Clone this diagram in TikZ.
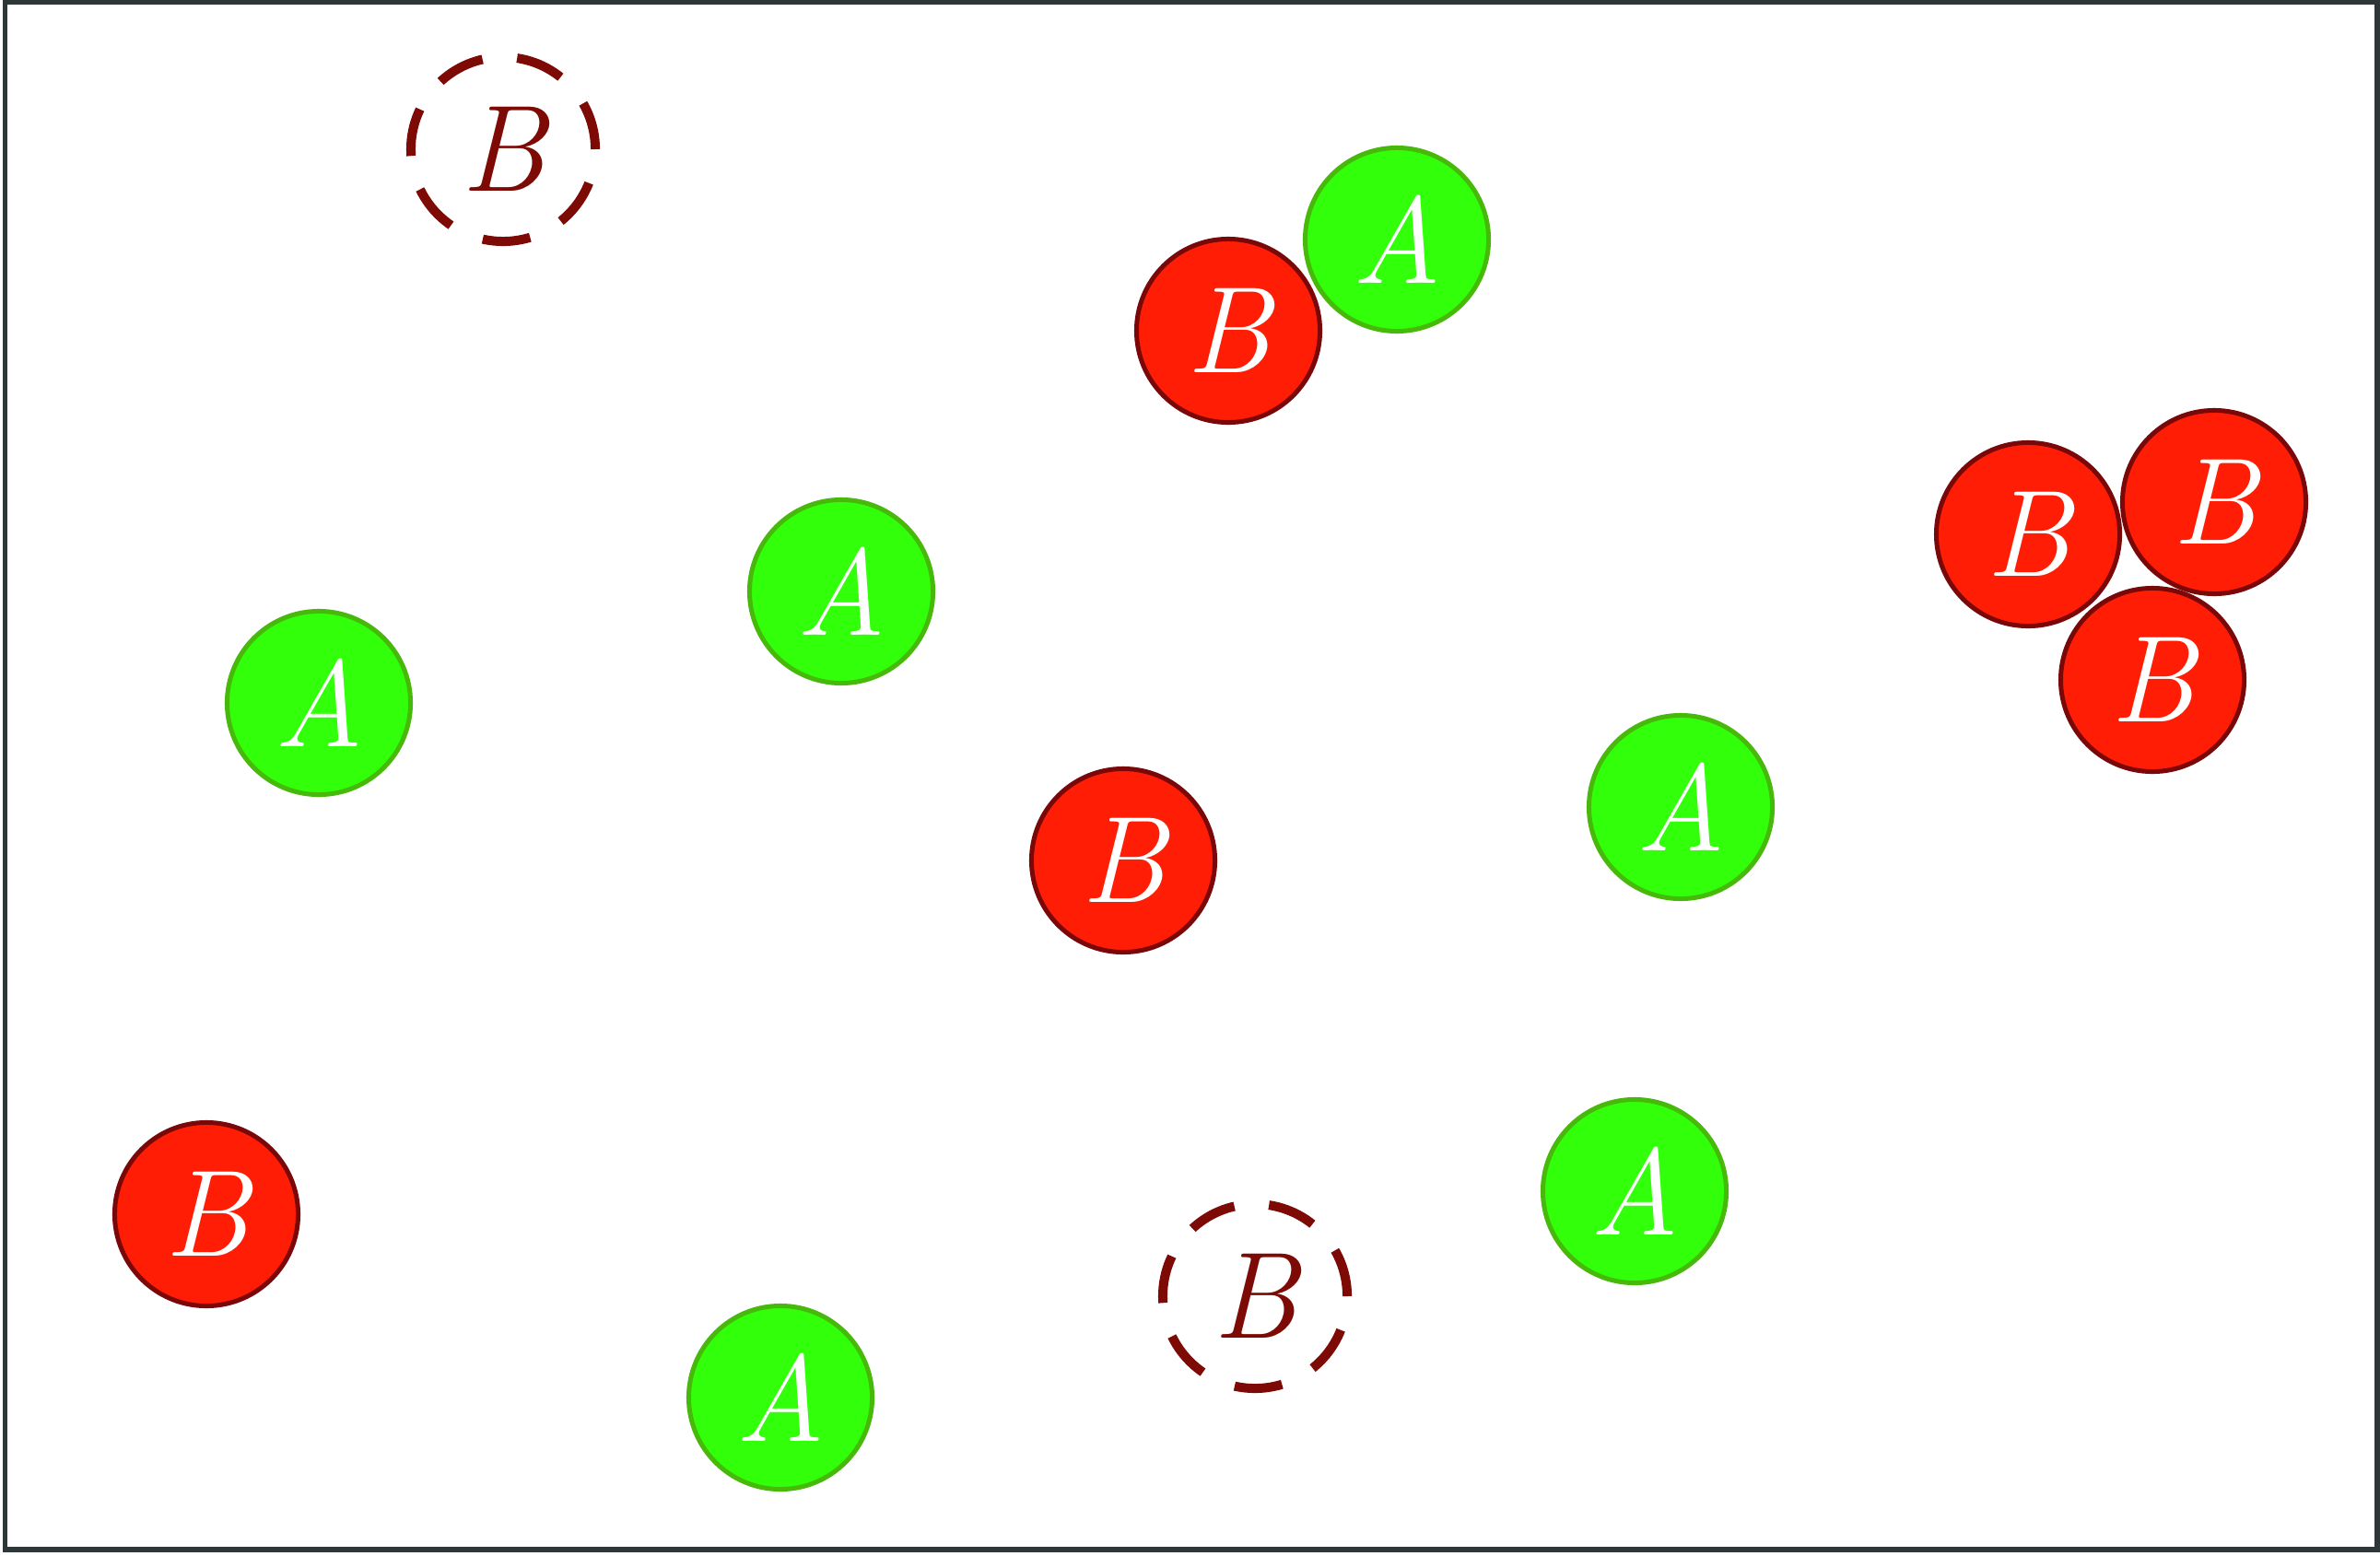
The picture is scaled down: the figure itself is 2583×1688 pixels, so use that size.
\documentclass[tikz,border=0pt]{standalone}
\usepackage{fontspec}
\usepackage{tikz}
\definecolor{redfill}{RGB}{255,30,5}
\definecolor{redline}{RGB}{122,8,8}
\definecolor{greenfill}{RGB}{50,255,10}
\definecolor{greenline}{RGB}{70,185,10}
\definecolor{dashline}{RGB}{125,10,5}
\definecolor{frameline}{RGB}{45,55,55}
\tikzset{
  ball/.style={circle, inner sep=0pt, minimum size=1.99cm, line width=0.05cm,
    font=\fontsize{38}{40}\selectfont\itshape},
  anode/.style={ball, draw=greenline, fill=greenfill, text=white},
  bnode/.style={ball, draw=redline, fill=redfill, text=white},
  ghost/.style={ball, minimum size=2cm, draw=dashline, text=dashline, line width=0.1cm,
    dash pattern=on 0.52cm off 0.378cm},
}
\begin{document}
\begin{tikzpicture}[x=0.01cm,y=-0.01cm]
\useasboundingbox (0,0) rectangle (2583,1688);
\draw[frameline, line width=0.055cm] (5.5,2) rectangle (2580,1682);
% green A
\node[anode] (a1) at (1516,260) {A};
\node[anode] (a2) at (913,642) {A};
\node[anode] (a3) at (346,763) {A};
\node[anode] (a4) at (1824,876) {A};
\node[anode] (a5) at (1774,1293) {A};
\node[anode] (a6) at (847,1517) {A};
% red B
\node[bnode] (b1) at (1333,359) {B};
\node[bnode] (b2) at (2201,580) {B};
\node[bnode] (b4) at (2336,738) {B};
\node[bnode] (b3) at (2403,545) {B};
\node[bnode] (b5) at (1219,934) {B};
\node[bnode] (b6) at (224,1318) {B};
% dashed B
\node[ghost] (g1) at (546,162) {B};
\node[ghost] (g2) at (1362,1407) {B};
\end{tikzpicture}
\end{document}
